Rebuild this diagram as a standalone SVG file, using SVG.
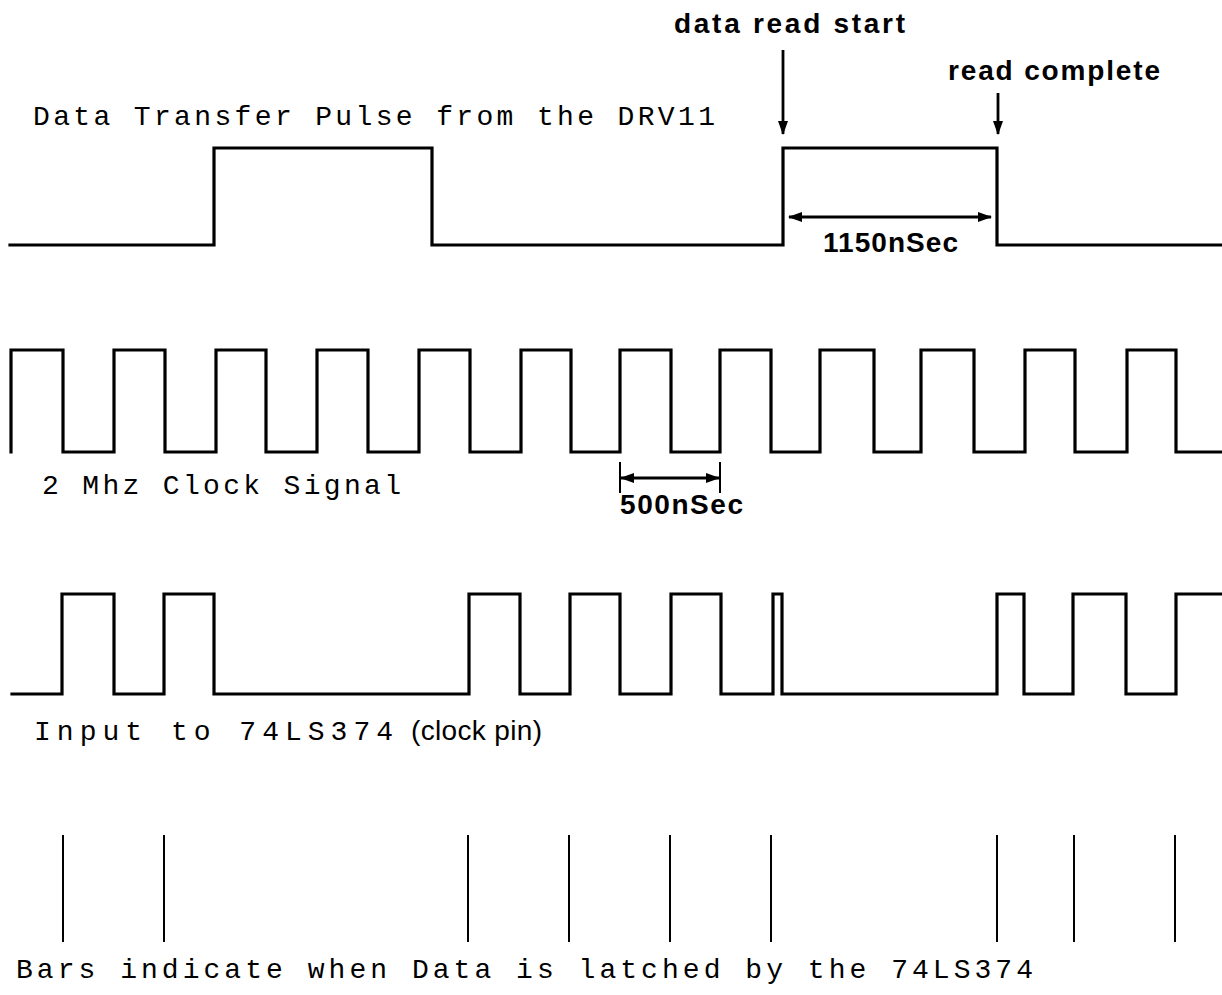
<svg xmlns="http://www.w3.org/2000/svg" width="1222" height="995" viewBox="0 0 1222 995">
<style>
.sig{fill:none;stroke:#000;stroke-width:3.2;stroke-linejoin:miter;stroke-linecap:square}
.bar{stroke:#000;stroke-width:2}
.arr{stroke:#000;stroke-width:2.8;fill:none}
.tw{font-family:"Liberation Mono","DejaVu Sans Mono",monospace;font-size:28px;fill:#000}
.hand{font-family:"Liberation Sans",Arial,sans-serif;font-size:28px;fill:#000}
.bold{font-family:"Liberation Sans",Arial,sans-serif;font-weight:bold;font-size:28px;fill:#000}
</style>
<defs>
<marker id="ah" viewBox="0 0 14 10" refX="13" refY="5" markerWidth="14" markerHeight="10" markerUnits="userSpaceOnUse" orient="auto-start-reverse">
<path d="M0,0 L14,5 L0,10 Z" fill="#000"/>
</marker>
</defs>
<rect width="1222" height="995" fill="#fff"/>

<g id="transfer-pulse">
<text class="tw" x="33" y="125" textLength="682" lengthAdjust="spacing">Data Transfer Pulse from the DRV11</text>
<path class="sig" d="M10,245 H214 V148 H432 V245 H783 V148 H997 V245 H1222"/>
</g>

<g id="data-read-start">
<text class="bold" x="674" y="33" textLength="231" lengthAdjust="spacing">data read start</text>
</g>
<g id="read-complete">
<text class="bold" x="948" y="80" textLength="212" lengthAdjust="spacing">read complete</text>
</g>
<g id="width-1150">
<text class="bold" x="823" y="252" textLength="135" lengthAdjust="spacing">1150nSec</text>
</g>

<g id="clock-signal">
<path class="sig" d="M11,452 V350 H63 V452 H114 V350 H165 V452 H216 V350 H266 V452 H317 V350 H368 V452 H419 V350 H470 V452 H521 V350 H571 V452 H620 V350 H671 V452 H720 V350 H771 V452 H820 V350 H874 V452 H921 V350 H974 V452 H1025 V350 H1075 V452 H1127 V350 H1176 V452 H1222"/>
<text class="tw" x="42" y="494" textLength="359" lengthAdjust="spacing">2 Mhz Clock Signal</text>
</g>

<g id="period-500">
<line class="bar" x1="620" y1="462" x2="620" y2="493" stroke-width="2.5"/>
<line class="bar" x1="720" y1="462" x2="720" y2="493" stroke-width="2.5"/>
<text class="bold" x="620" y="514" textLength="123" lengthAdjust="spacing">500nSec</text>
</g>

<g id="latch-input">
<path class="sig" d="M12,694 H62 V594 H114 V694 H164 V594 H214 V694 H469 V594 H520 V694 H570 V594 H620 V694 H671 V594 H721 V694 H773 V594 H782 V694 H997 V594 H1024 V694 H1073 V594 H1126 V694 H1176 V594 H1222"/>
<text class="tw" x="34" y="740" textLength="359" lengthAdjust="spacing">Input to 74LS374</text>
<text class="hand" x="411" y="740" textLength="131" lengthAdjust="spacing">(clock pin)</text>
</g>

<g id="latch-bars">
<line class="bar" x1="63" y1="835" x2="63" y2="942"/>
<line class="bar" x1="164" y1="835" x2="164" y2="942"/>
<line class="bar" x1="468" y1="835" x2="468" y2="942"/>
<line class="bar" x1="569" y1="835" x2="569" y2="942"/>
<line class="bar" x1="670" y1="835" x2="670" y2="942"/>
<line class="bar" x1="771" y1="835" x2="771" y2="942"/>
<line class="bar" x1="997" y1="835" x2="997" y2="942"/>
<line class="bar" x1="1074" y1="835" x2="1074" y2="942"/>
<line class="bar" x1="1175" y1="835" x2="1175" y2="942"/>
<text class="tw" x="16" y="978" textLength="1017" lengthAdjust="spacing">Bars indicate when Data is latched by the 74LS374</text>
</g>

<g id="connectors">
<line class="arr" x1="783" y1="50" x2="783" y2="134" marker-end="url(#ah)"/>
<line class="arr" x1="998" y1="93" x2="998" y2="134" marker-end="url(#ah)"/>
<line class="arr" x1="789" y1="217" x2="991" y2="217" marker-start="url(#ah)" marker-end="url(#ah)"/>
<line class="arr" x1="621" y1="478" x2="719" y2="478" marker-start="url(#ah)" marker-end="url(#ah)"/>
</g>
</svg>
